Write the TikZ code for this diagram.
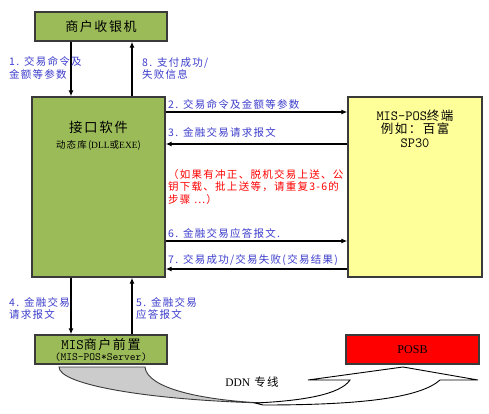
\documentclass[tikz,border=0pt]{standalone}
\usepackage{fontspec}
\setmainfont{Noto Sans CJK SC}[LetterSpace=12]
\setmonofont{Latin Modern Mono}
\newfontfamily\serif{Liberation Serif}
\usetikzlibrary{arrows.meta}
\definecolor{cgreen}{HTML}{9BBB59}
\definecolor{cyellow}{HTML}{FFFF99}
\definecolor{cred}{HTML}{FF0000}
\definecolor{cblue}{HTML}{3C3CCC}
\definecolor{cborder}{HTML}{3A3A3A}
\definecolor{cshade}{HTML}{CCCCCC}
\tikzset{
  box/.style={draw=cborder, fill=#1, align=center, inner sep=0pt, line width=1.3pt},
  box/.default=cgreen,
  arrow/.style={-{Latex[length=6pt, width=5pt]}, draw=black, line width=1.4pt},
  lbl/.style={text=cblue, align=left, anchor=west, inner sep=0pt, font=\fontsize{10.5}{12.5}\selectfont},
  note/.style={text=cred, align=left, anchor=west, inner sep=0pt, font=\fontsize{10.5}{12.5}\selectfont},
  big/.style={font=\fontsize{13}{14}\selectfont, inner sep=0pt},
}

\begin{document}
\begin{tikzpicture}[x=1pt, y=-1pt]
  \useasboundingbox (0,0) rectangle (489,414);
  % boxes
  \node[box, minimum width=132pt, minimum height=29pt, big] (pos) at (101,26.5) {商户收银机};
  \node[box, minimum width=133pt, minimum height=180pt] (main) at (98.5,187) {};
  \node[big, font=\fontsize{13.5}{14}\selectfont] (maintitle) at (98.5,127) {接口软件};
  \node[font=\fontsize{9.5}{11}\selectfont, inner sep=0pt] (mainsub) at (98.5,145) {动态库({\serif DLL}或{\serif EXE})};
  \node[box=cyellow, minimum width=134pt, minimum height=180pt] (term) at (415,187) {};
  \node[align=center, inner sep=0pt, font=\fontsize{12.5}{13.5}\selectfont] (termtxt) at (415,128.5)
    {{\ttfamily\fontsize{14}{13.5}\selectfont MIS-POS}终端\\例如：百富\\{\ttfamily\fontsize{14}{13.5}\selectfont SP30}};
  \node[box, minimum width=132pt, minimum height=29pt] (front) at (101,349.5)
    {\fontsize{13}{14}\selectfont{\ttfamily\fontsize{14.5}{14}\selectfont MIS}商户前置\\[-1pt]\fontsize{11}{11}\selectfont\ttfamily (MIS-POS*Server)};
  \node[box=cred, minimum width=133pt, minimum height=29pt, font=\serif\fontsize{12}{14}\selectfont] (posb) at (412.5,349.5) {POSB};
  % vertical links
  \coordinate (lx) at (71,0);
  \coordinate (rx) at (132,0);
  \draw[arrow] (lx |- pos.south) -- (lx |- main.north);
  \draw[arrow] (rx |- main.north) -- (rx |- pos.south);
  \draw[arrow] (lx |- main.south) -- (lx |- front.north);
  \draw[arrow] (rx |- front.north) -- (rx |- main.south);
  % horizontal links
  \foreach \yy/\a/\b in {112/main.east/term.west, 144/term.west/main.east,
                         241/main.east/term.west, 269/term.west/main.east}
    \draw[arrow] (\a |- 0,\yy) -- (\b |- 0,\yy);
  % labels
  \node[lbl] (l1) at (9,68) {1. 交易命令及\\金额等参数};
  \node[lbl] (l8) at (142,68.5) {8. 支付成功/\\失败信息};
  \node[lbl] (l2) at (168,104) {2. 交易命令及金额等参数};
  \node[lbl] (l3) at (168,132) {3. 金融交易请求报文};
  \node[note] (rem) at (168,187) {（如果有冲正、脱机交易上送、公\\钥下载、批上送等，请重复3-6的\\步骤 ⋯）};
  \node[lbl] (l6) at (168,233) {6. 金融交易应答报文.};
  \node[lbl] (l7) at (168,260) {7. 交易成功/交易失败(交易结果)};
  \node[lbl] (l4) at (9,308.5) {4. 金融交易\\请求报文};
  \node[lbl] (l5) at (136,308.5) {5. 金融交易\\应答报文};
  % DDN line
  \filldraw[fill=cshade, draw=cborder, line width=0.9pt] (59,367) -- (145,367)
    .. controls (147,388) and (200,400) .. (263,403)
    .. controls (150,400) and (59,385) .. (59,367) -- cycle;
  \filldraw[fill=white, draw=black, line width=0.9pt] (255,403)
    .. controls (300,401) and (340,395) .. (350,380) -- (308,380) -- (403,367) -- (478,380) -- (440,380)
    .. controls (420,398) and (360,405) .. (263,405) -- cycle;
  \node[font=\fontsize{11.5}{13}\selectfont, inner sep=0pt] (ddn) at (252,382) {{\serif DDN} 专线};
\end{tikzpicture}
\end{document}
